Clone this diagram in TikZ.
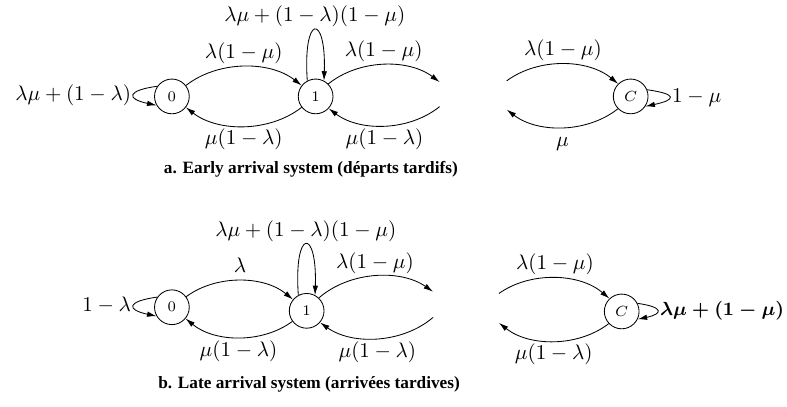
\documentclass[tikz,border=0pt]{standalone}
\usepackage{fontspec}
\setmainfont{Liberation Serif}
\usetikzlibrary{arrows.meta}
\tikzset{
  st/.style={circle, draw, minimum size=16.5pt, inner sep=0pt, font=\scriptsize},
  lbl/.style={inner sep=1.2pt, text height=7.5pt, text depth=2.5pt},
  arc/.style={->, bend left=38, looseness=0.9},
  captxt/.style={font=\fontsize{8.2}{10}\selectfont\bfseries},
}
\begin{document}
\begin{tikzpicture}[>={Latex[length=4.5pt,width=2.6pt]}]
    \useasboundingbox (0,0) rectangle (13.14,6.79);
    % a. early arrival
    \node[st] (0a) at (2.87,5.18) {$0$};
    \node[st] (1a) at (5.27,5.18) {$1$};
    \node[st] (Ca) at (10.53,5.18) {$C$};
    \coordinate (ra-in) at (7.34,5.42);
    \coordinate (ra-out) at (7.34,5.01);
    \coordinate (la-out) at (8.46,5.44);
    \coordinate (la-in) at (8.46,4.96);
    \draw[arc] (0a) to node[lbl,above] {$\lambda(1-\mu)$} (1a);
    \draw[arc] (1a) to node[lbl,below] {$\mu(1-\lambda)$} (0a);
    \draw[arc] (1a) to node[lbl,above] {$\lambda(1-\mu)$} (ra-in);
    \draw[arc] (ra-out) to node[lbl,below] {$\mu(1-\lambda)$} (1a);
    \draw[arc] (la-out) to node[lbl,above] {$\lambda(1-\mu)$} (Ca);
    \draw[arc] (Ca) to node[lbl,below] {$\mu$} (la-in);
    \draw[->] (0a.145) to[out=188,in=168,min distance=0.52cm] node[lbl,left] {$\lambda\mu+(1-\lambda)$} (0a.210);
    \draw[->] (1a.118) to[out=94,in=88,min distance=1.13cm] node[lbl,above] {$\lambda\mu+(1-\lambda)(1-\mu)$} (1a.62);
    \draw[->] (Ca.22) to[out=352,in=12,min distance=0.52cm] node[lbl,right] {$1-\mu$} (Ca.326);
    \node[captxt] (capa) at (5.19,3.96) {a. Early arrival system (départs tardifs)};
    % b. late arrival
    \node[st] (0b) at (2.87,1.66) {$0$};
    \node[st] (1b) at (5.12,1.60) {$1$};
    \node[st] (Cb) at (10.38,1.59) {$C$};
    \coordinate (rb-in) at (7.23,1.92);
    \coordinate (rb-out) at (7.23,1.49);
    \coordinate (lb-out) at (8.33,1.89);
    \coordinate (lb-in) at (8.33,1.40);
    \draw[arc] (0b) to node[lbl,above] {$\lambda$} (1b);
    \draw[arc] (1b) to node[lbl,below] {$\mu(1-\lambda)$} (0b);
    \draw[arc] (1b) to node[lbl,above] {$\lambda(1-\mu)$} (rb-in);
    \draw[arc] (rb-out) to node[lbl,below] {$\mu(1-\lambda)$} (1b);
    \draw[arc] (lb-out) to node[lbl,above] {$\lambda(1-\mu)$} (Cb);
    \draw[arc] (Cb) to node[lbl,below] {$\mu(1-\lambda)$} (lb-in);
    \draw[->] (0b.145) to[out=188,in=168,min distance=0.52cm] node[lbl,left] {$1-\lambda$} (0b.210);
    \draw[->] (1b.118) to[out=94,in=88,min distance=1.13cm] node[lbl,above] {$\lambda\mu+(1-\lambda)(1-\mu)$} (1b.62);
    \draw[->] (Cb.27) to[out=352,in=12,min distance=0.44cm] node[lbl,right,font=\fontsize{8.8}{10}\selectfont\boldmath] {$\lambda\mu+(1-\mu)$} (Cb.334);
    \node[captxt] (capb) at (5.16,0.37) {b. Late arrival system (arrivées tardives)};
\end{tikzpicture}
\end{document}
